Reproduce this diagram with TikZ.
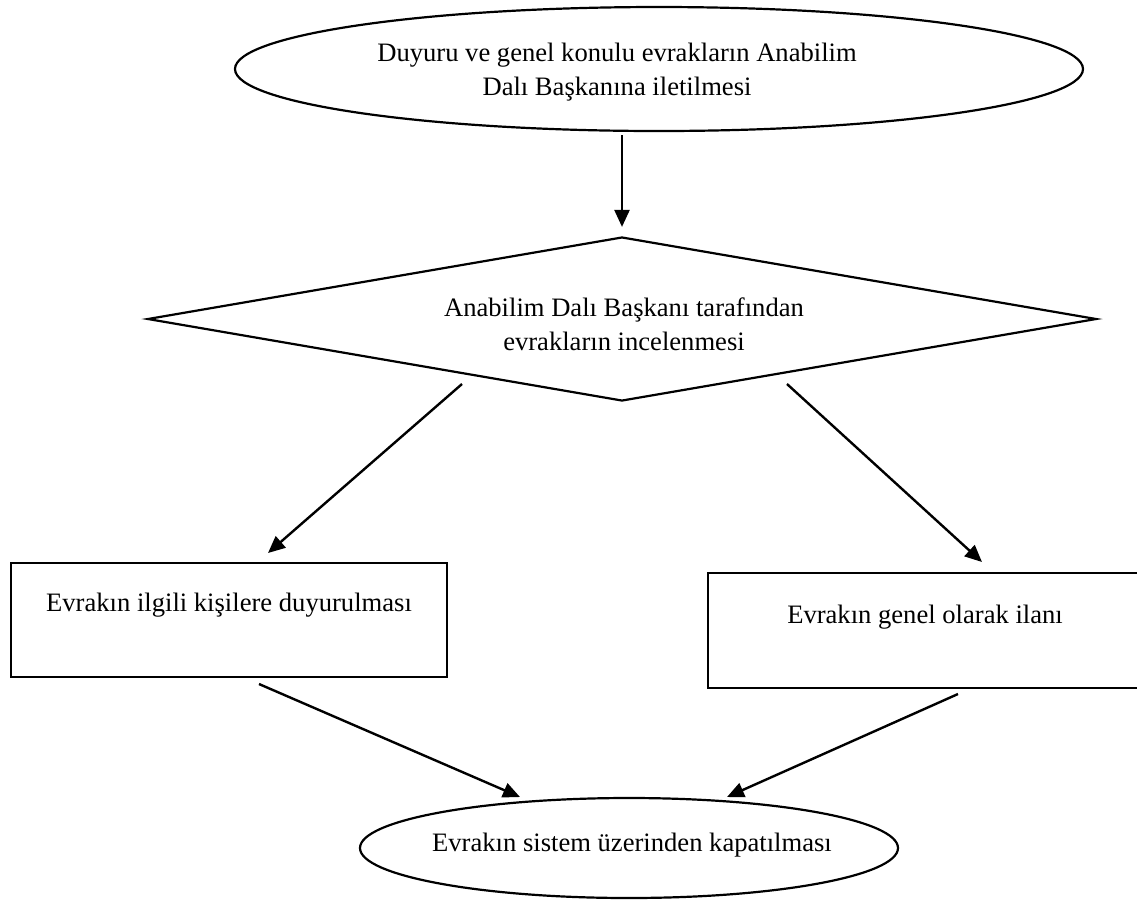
\documentclass[tikz,border=0pt]{standalone}
\usepackage{fontspec}
\setmainfont{Liberation Serif}
\usetikzlibrary{arrows.meta}
\usetikzlibrary{shapes.geometric}
\usetikzlibrary{positioning}

\begin{document}
\begin{tikzpicture}[x=0.5pt,y=-0.5pt,>={Triangle[length=8.5pt,width=7.5pt]},every node/.style={draw,line width=1.1pt,inner sep=0pt}]
\tikzstyle{yazi} = [draw=none, align=center, font=\fontsize{13.3}{17}\selectfont]
\tikzstyle{oval} = [ellipse]
\tikzstyle{karar} = [diamond]
\tikzstyle{kutu} = [rectangle]
\tikzstyle{ok} = [->, line width=1.2pt]
\useasboundingbox (0,0) rectangle (1137,902);

\node[oval,minimum width=424pt,minimum height=62pt] (bas) at (659,69) {};
\node[yazi] (basl) at (617,72) {Duyuru ve genel konulu evrakların Anabilim\\Dalı Başkanına iletilmesi};

\node[karar,minimum width=474.5pt,minimum height=82pt] (inc) at (622,319) {};
\node[yazi] (incl) at (624,324) {Anabilim Dalı Başkanı tarafından\\evrakların incelenmesi};

\node[kutu,minimum width=218pt,minimum height=57pt] (duy) at (229,620) {};
\node[yazi] (duyl) at (229,605) {Evrakın ilgili kişilere duyurulması};

\node[kutu,minimum width=216.5pt,minimum height=57.5pt] (ilan) at (924.5,630.5) {};
\node[yazi] (ilanl) at (925,617) {Evrakın genel olarak ilanı};

\node[oval,minimum width=269pt,minimum height=50pt] (kap) at (629,848) {};
\node[yazi] (kapl) at (632,845) {Evrakın sistem üzerinden kapatılması};

\coordinate (i1) at (462,384);
\coordinate (d1) at (268,553);
\coordinate (i2) at (787,384);
\coordinate (l1) at (982,562);
\coordinate (d2) at (259,684);
\coordinate (k1) at (520,797);
\coordinate (l2) at (958,694);
\coordinate (k2) at (727,797);

\draw[ok] ([yshift=-1.5pt]bas.south -| inc.north) -- ([yshift=4.5pt]inc.north);
\draw[ok] (i1) -- (d1);
\draw[ok] (i2) -- (l1);
\draw[ok] (d2) -- (k1);
\draw[ok] (l2) -- (k2);
\end{tikzpicture}
\end{document}
